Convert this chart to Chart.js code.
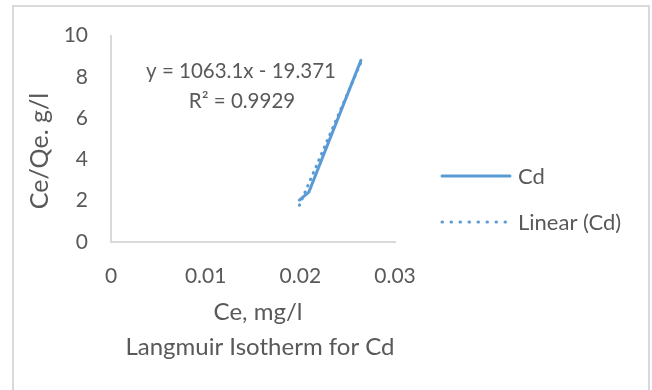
<!DOCTYPE html>
<html>
<head>
<meta charset="utf-8">
<script src="https://cdn.jsdelivr.net/npm/chart.js@4.4.0/dist/chart.umd.min.js"></script>
<style>
  html, body { margin: 0; padding: 0; background: #fff; }
  #wrap { width: 652px; height: 390px; }
</style>
</head>
<body>
<div id="wrap"><canvas id="myChart" width="652" height="390"></canvas></div>
<script>
// data
var cdX = [0.0199, 0.0209, 0.0264];
var cdY = [2.03, 2.42, 8.8];
var trendX = [0.0199, 0.0264];
var trendY = [1.78, 8.70];
var xTicks = [0, 0.01, 0.02, 0.03];
var yTicks = [0, 2, 4, 6, 8, 10];

var FONT = 'Lato, "Noto Sans", sans-serif';
var GREY = '#595959';
var BLUE = '#5B9BD5';

function toPoints(xs, ys) {
    return xs.map(function(x, i) { return { x: x, y: ys[i] }; });
}

// texts, legend and frame drawn on top of the chart
var extras = {
    id: 'extras',
    afterDraw: function(chart) {
        var ctx = chart.ctx;
        ctx.save();
        ctx.strokeStyle = '#d9d9d9';
        ctx.lineWidth = 2;
        ctx.strokeRect(13, 6, 636, 390);

        ctx.fillStyle = GREY;
        ctx.textAlign = 'center';
        ctx.textBaseline = 'middle';
        ctx.font = '20.5px ' + FONT;
        ctx.fillText('y = 1063.1x - 19.371', 241, 71);
        ctx.fillText('R² = 0.9929', 242, 101);
        ctx.font = '24px ' + FONT;
        ctx.fillText('Ce, mg/l', 258, 312);
        ctx.fillText('Langmuir Isotherm for Cd', 260, 347);

        ctx.save();
        ctx.translate(40, 151);
        ctx.rotate(-Math.PI / 2);
        ctx.font = '25px ' + FONT;
        ctx.fillText('Ce/Qe. g/l', 0, 0);
        ctx.restore();

        // legend
        ctx.lineCap = 'round';
        ctx.strokeStyle = BLUE;
        ctx.lineWidth = 3;
        ctx.beginPath();
        ctx.moveTo(442, 176);
        ctx.lineTo(510, 176);
        ctx.stroke();
        ctx.setLineDash([0.5, 8.5]);
        ctx.beginPath();
        ctx.moveTo(442, 222);
        ctx.lineTo(511, 222);
        ctx.stroke();
        ctx.setLineDash([]);
        ctx.textAlign = 'left';
        ctx.font = '22px ' + FONT;
        ctx.fillText('Cd', 518, 177);
        ctx.fillText('Linear (Cd)', 518, 223);
        ctx.restore();
    }
};

var ctx = document.getElementById('myChart').getContext('2d');
var myChart = new Chart(ctx, {
    type: 'scatter',
    data: {
        datasets: [{
            label: 'Linear (Cd)',
            data: toPoints(trendX, trendY),
            showLine: true,
            borderColor: BLUE,
            borderWidth: 3,
            borderDash: [0.5, 6.5],
            borderCapStyle: 'round',
            pointRadius: 0,
            fill: false
        }, {
            label: 'Cd',
            data: toPoints(cdX, cdY),
            showLine: true,
            borderColor: BLUE,
            borderWidth: 3,
            borderCapStyle: 'round',
            pointRadius: 0,
            fill: false
        }]
    },
    options: {
        responsive: false,
        animation: false,
        layout: { padding: { top: 34, right: 257, left: 0, bottom: 0 } },
        plugins: { legend: { display: false }, tooltip: { enabled: false } },
        scales: {
            x: {
                type: 'linear',
                min: 0,
                max: 0.03,
                afterBuildTicks: function(s) { s.ticks = xTicks.map(function(v) { return { value: v }; }); },
                afterFit: function(s) { s.height = 148; },
                grid: { display: false, drawTicks: false },
                border: { display: true, color: '#d9d9d9', width: 2 },
                ticks: { color: GREY, font: { family: FONT, size: 21 }, padding: 22, maxRotation: 0 }
            },
            y: {
                min: 0,
                max: 10,
                afterBuildTicks: function(s) { s.ticks = yTicks.map(function(v) { return { value: v }; }); },
                afterFit: function(s) { s.width = 111; },
                grid: { display: false, drawTicks: false },
                border: { display: true, color: '#d9d9d9', width: 2 },
                ticks: { color: GREY, font: { family: FONT, size: 21 }, padding: 23 }
            }
        }
    },
    plugins: [extras]
});
</script>
</body>
</html>
